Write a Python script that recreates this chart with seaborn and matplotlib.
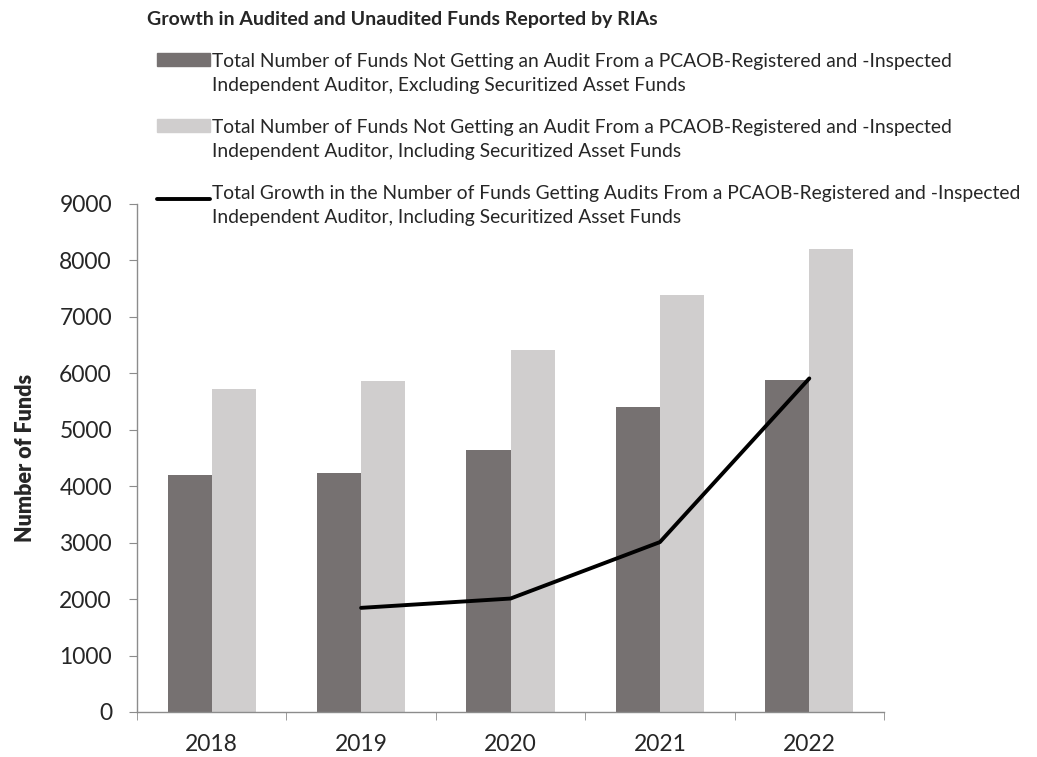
import matplotlib
matplotlib.use("Agg")
import matplotlib.pyplot as plt
import seaborn as sns
import pandas as pd
from matplotlib.patches import Patch
from matplotlib.lines import Line2D
from matplotlib.legend_handler import HandlerPatch, HandlerLine2D

# data
years = ["2018", "2019", "2020", "2021", "2022"]
excl_securitized = [4200, 4230, 4640, 5400, 5880]
incl_securitized = [5720, 5860, 6420, 7380, 8210]
line_years = ["2019", "2020", "2021", "2022"]
audited_growth = [1845, 2010, 3010, 5910]

lab_excl = ("Total Number of Funds Not Getting an Audit From a PCAOB-Registered and -Inspected\n"
            "Independent Auditor, Excluding Securitized Asset Funds")
lab_incl = ("Total Number of Funds Not Getting an Audit From a PCAOB-Registered and -Inspected\n"
            "Independent Auditor, Including Securitized Asset Funds")
lab_line = ("Total Growth in the Number of Funds Getting Audits From a PCAOB-Registered and -Inspected\n"
            "Independent Auditor, Including Securitized Asset Funds")

DARK = "#767171"
LIGHT = "#D0CECE"
AXIS = "#8C8C8C"

sns.set_style("white")
plt.rcParams["font.family"] = ["Lato", "DejaVu Sans"]

bars = pd.DataFrame({
    "year": years * 2,
    "funds": excl_securitized + incl_securitized,
    "series": ["excl"] * len(years) + ["incl"] * len(years),
})
line_df = pd.DataFrame({"year": line_years, "funds": audited_growth})

fig = plt.figure(figsize=(10.37, 7.57), dpi=100)
ax = fig.add_axes([137 / 1037, 1 - 712 / 757, (884 - 137) / 1037, (712 - 204) / 757])

sns.barplot(data=bars, x="year", y="funds", hue="series", order=years,
            hue_order=["excl", "incl"], palette=[DARK, LIGHT], width=0.59,
            saturation=1, linewidth=0, legend=False, ax=ax)
sns.pointplot(data=line_df, x="year", y="funds", order=years, color="black",
              markers="", linewidth=2.8, errorbar=None, ax=ax)
for ln in ax.lines:
    ln.set_marker("")

ax.set_ylim(0, 9000)
ax.set_xlim(-0.5, len(years) - 0.5)
ax.set_yticks(range(0, 9001, 1000))
ax.set_xlabel("")
ax.set_ylabel("Number of Funds", fontsize=15.5, fontweight="heavy", labelpad=17)

sns.despine(ax=ax)
for s in ["left", "bottom"]:
    ax.spines[s].set_color(AXIS)
    ax.spines[s].set_linewidth(1)
ax.tick_params(axis="y", direction="out", length=6, color=AXIS, labelsize=16.5, pad=12, left=True)
ax.tick_params(axis="x", which="major", length=0, labelsize=16.5, pad=16)
ax.set_xticks([i - 0.5 for i in range(len(years) + 1)], minor=True)
ax.tick_params(axis="x", which="minor", direction="out", length=6, color=AXIS, bottom=True)


class TopPatch(HandlerPatch):
    def create_artists(self, legend, orig_handle, xdescent, ydescent, width, height, fontsize, trans):
        return super().create_artists(legend, orig_handle, xdescent, ydescent - 0.75 * fontsize,
                                      width, height, fontsize, trans)


class TopLine(HandlerLine2D):
    def create_artists(self, legend, orig_handle, xdescent, ydescent, width, height, fontsize, trans):
        return super().create_artists(legend, orig_handle, xdescent, ydescent - 0.75 * fontsize,
                                      width, height, fontsize, trans)


handles = [Patch(color=DARK), Patch(color=LIGHT), Line2D([], [], color="black", lw=2.8)]
leg = fig.legend(handles, [lab_excl, lab_incl, lab_line], loc="upper left",
                 bbox_to_anchor=(157 / 1037, 1 - 53 / 757), frameon=False, fontsize=13.9,
                 borderpad=0, borderaxespad=0, handlelength=2.75, handletextpad=0.12,
                 labelspacing=1.3, handler_map={Patch: TopPatch(), Line2D: TopLine()})
for t in leg.get_texts():
    t.set_linespacing(1.5)

fig.text(147 / 1037, 1 - 20 / 757, "Growth in Audited and Unaudited Funds Reported by RIAs",
         fontsize=14, fontweight="bold", va="center", ha="left")

fig.savefig("out.png", dpi=100)
